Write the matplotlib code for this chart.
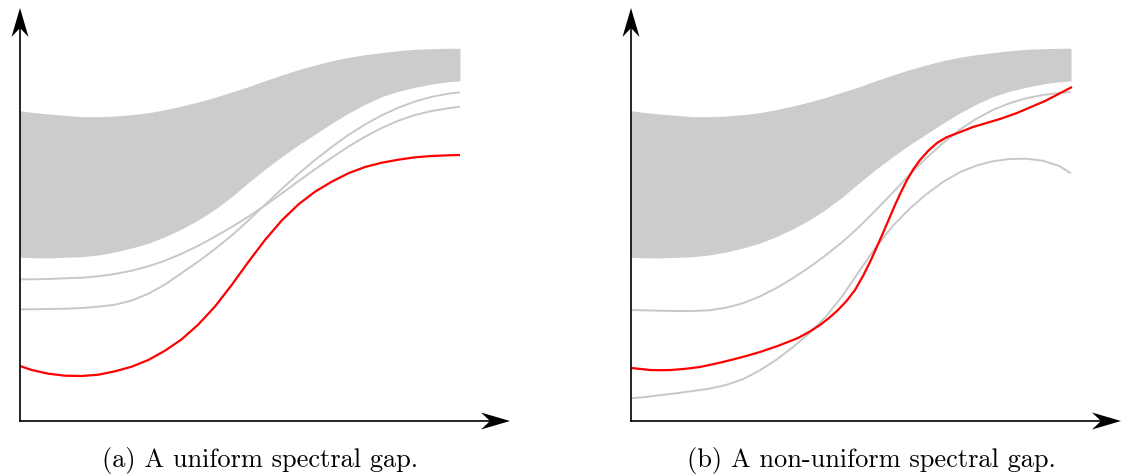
"""Two sketch panels: spectral band with gray eigenvalue curves and a red gap curve."""
import numpy as np
import matplotlib

matplotlib.use("Agg")
import matplotlib.pyplot as plt
from matplotlib.patches import Polygon

# values in pixel-like units measured from each panel's origin
grid_x = [0, 11.7, 28.3, 45, 61.7, 78.3, 95, 111.7, 128.3, 145, 161.7, 178.3, 195,
          211.7, 228.3, 245, 261.7, 278.3, 295, 311.7, 328.3, 345, 361.7, 378.3,
          395, 411.7, 428.3, 440]

# shaded band (same in both panels)
band_top = [310.3, 308.7, 307.0, 305.7, 304.3, 304.3, 305.0, 306.3, 308.3, 311.3,
            315.0, 319.0, 323.7, 329.0, 334.3, 340.3, 346.0, 351.3, 356.0, 360.3,
            363.7, 366.3, 368.3, 370.3, 371.7, 372.3, 372.7, 372.7]
band_bot = [163.7, 163.3, 163.0, 163.7, 164.3, 166.0, 169.0, 173.0, 177.7, 184.3,
            192.0, 201.0, 211.7, 224.3, 238.3, 251.7, 264.3, 276.0, 286.7, 297.7,
            307.7, 316.7, 324.3, 329.7, 333.7, 337.0, 339.3, 340.0]

# panel (a)
a_gray1 = [141.7, 141.7, 142.0, 142.7, 143.3, 144.7, 147.0, 150.3, 154.7, 160.3,
           167.3, 175.3, 184.3, 194.0, 204.3, 215.5, 227.5, 239.7, 251.7, 263.3,
           274.3, 284.3, 293.0, 300.3, 306.0, 310.0, 312.7, 314.3]
a_gray2 = [111.7, 111.7, 112.0, 112.3, 113.0, 114.3, 116.3, 120.5, 127.2, 136.5,
           148.0, 159.5, 172.0, 185.5, 200.5, 216.2, 232.0, 247.0, 261.0, 274.0,
           286.0, 296.5, 305.7, 313.3, 319.5, 324.2, 327.3, 328.7]
a_red = [55.0, 51.0, 47.3, 45.3, 45.0, 46.3, 49.7, 54.3, 61.0, 70.3, 81.7, 96.5,
         114.5, 136.0, 159.0, 181.0, 200.5, 216.5, 229.3, 239.3, 247.7, 254.0,
         258.3, 261.3, 263.7, 265.0, 265.7, 266.0]

# panel (b)
b_gray1 = [111.0, 110.7, 110.3, 110.0, 110.0, 110.7, 113.3, 117.7, 124.3, 132.7,
           142.7, 153.7, 166.0, 179.3, 194.3, 211.0, 228.3, 246.0, 262.7, 277.7,
           291.0, 302.0, 311.0, 317.7, 322.7, 326.0, 328.0, 329.0]
b_gray2 = [22.7, 23.7, 25.7, 27.7, 30.0, 32.3, 36.0, 41.7, 50.3, 61.0, 73.7, 87.7,
           104.5, 125.5, 150.0, 174.0, 195.0, 212.0, 226.5, 238.8, 248.5, 255.3,
           259.7, 262.0, 262.3, 260.3, 255.0, 247.7]
b_red_x = [0, 10, 19, 29.5, 40, 54.5, 69, 84.5, 100, 114.5, 129, 148, 167, 178,
           189, 198, 207, 215.5, 224, 232, 240, 246, 252, 258, 264, 270, 276,
           282.5, 289, 297.5, 306, 315, 324, 342, 369, 386, 414, 441]
b_red = [53, 52, 51, 50.8, 51, 52.2, 54, 57.3, 61, 64.8, 69, 75.5, 83, 89,
         96, 103, 111, 120, 131, 145, 161, 174.5, 188, 202, 216, 229, 241,
         252, 261, 270.5, 278, 283.5, 287, 294, 302, 308, 320, 334]

captions = ["(a) A uniform spectral gap.", "(b) A non-uniform spectral gap."]

W, H = 1123, 475
fig = plt.figure(figsize=(W / 100, H / 100), dpi=100)

GRAY = "#c8c8c8"
BAND = "#cccccc"


def arrow_head(ax, tip, direction):
    # stealth-like arrow head with a notch at the back
    L, hw, notch = 29, 8.5, 9
    d = np.array(direction, float)
    n = np.array([-d[1], d[0]])
    t = np.array(tip, float)
    pts = [t, t - L * d + hw * n, t - (L - notch) * d, t - L * d - hw * n]
    ax.add_patch(Polygon(pts, closed=True, color="black", lw=0, zorder=5))


def panel(ax, left_px, ox, lines, red, caption):
    # ox = x pixel of the origin, origin y pixel is 421
    ax.set_xlim(left_px - ox, left_px + W / 2 - ox)
    ax.set_ylim(-(H - 421), 421)
    ax.axis("off")
    ax.fill_between(grid_x, band_bot, band_top, color=BAND, lw=0)
    for ys in lines:
        ax.plot(grid_x, ys, color=GRAY, lw=1.4, solid_capstyle="butt",
                solid_joinstyle="round")
    ax.plot(red[0], red[1], color="red", lw=1.6, solid_capstyle="butt",
            solid_joinstyle="round")
    ax.plot([0, 470], [0, 0], color="black", lw=1.2)
    ax.plot([0, 0], [0, 395], color="black", lw=1.2)
    arrow_head(ax, (490, 0), (1, 0))
    arrow_head(ax, (0, 413), (0, 1))
    ax.text(240, -40, caption, ha="center", va="center", fontsize=19,
            family="cmr10")


axL = fig.add_axes([0, 0, 0.5, 1])
axR = fig.add_axes([0.5, 0, 0.5, 1])

panel(axL, 0, 20, [a_gray1, a_gray2], (grid_x, a_red), captions[0])
panel(axR, W / 2, 631, [b_gray1, b_gray2], (b_red_x, b_red), captions[1])

fig.savefig("out.png", dpi=100)
